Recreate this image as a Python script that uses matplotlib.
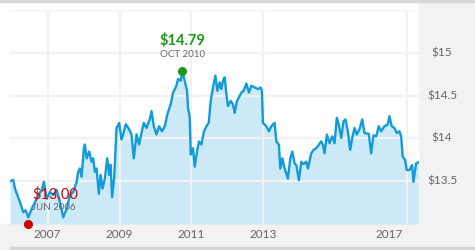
import matplotlib
matplotlib.use("Agg")
import matplotlib.pyplot as plt
from matplotlib.patches import Rectangle

# decimal-year dates and prices
years = [2005.953, 2006.044, 2006.092, 2006.231, 2006.322, 2006.389, 2006.461, 2006.556, 2006.647, 2006.739,
         2006.833, 2006.897, 2006.972, 2007.064, 2007.156, 2007.25, 2007.342, 2007.433, 2007.528, 2007.619,
         2007.711, 2007.806, 2007.85, 2007.897, 2007.944, 2008.008, 2008.036, 2008.083, 2008.156, 2008.222,
         2008.267, 2008.314, 2008.361, 2008.425, 2008.472, 2008.528, 2008.592, 2008.656, 2008.711, 2008.75,
         2008.794, 2008.85, 2008.917, 2008.989, 2009.056, 2009.1, 2009.175, 2009.267, 2009.333, 2009.397,
         2009.472, 2009.544, 2009.611, 2009.675, 2009.75, 2009.842, 2009.889, 2009.953, 2010.028, 2010.1,
         2010.183, 2010.258, 2010.333, 2010.425, 2010.489, 2010.583, 2010.628, 2010.703, 2010.75, 2010.833,
         2010.878, 2010.906, 2010.953, 2010.981, 2011.044, 2011.092, 2011.156, 2011.211, 2011.278, 2011.35,
         2011.417, 2011.481, 2011.536, 2011.6, 2011.667, 2011.722, 2011.786, 2011.833, 2011.878, 2011.925,
         2011.972, 2012.017, 2012.092, 2012.156, 2012.203, 2012.267, 2012.389, 2012.453, 2012.528, 2012.6,
         2012.667, 2012.758, 2012.85, 2012.925, 2012.961, 2012.989, 2013.083, 2013.156, 2013.222, 2013.314,
         2013.361, 2013.433, 2013.472, 2013.528, 2013.592, 2013.683, 2013.75, 2013.806, 2013.869, 2013.917,
         2013.989, 2014.056, 2014.119, 2014.194, 2014.239, 2014.333, 2014.397, 2014.472, 2014.544, 2014.611,
         2014.656, 2014.703, 2014.767, 2014.842, 2014.917, 2014.981, 2015.044, 2015.1, 2015.167, 2015.231,
         2015.286, 2015.35, 2015.417, 2015.472, 2015.536, 2015.6, 2015.675, 2015.75, 2015.814, 2015.933,
         2016.0, 2016.064, 2016.139, 2016.211, 2016.278, 2016.369, 2016.461, 2016.508, 2016.572, 2016.647,
         2016.711, 2016.786, 2016.833, 2016.878, 2016.944, 2016.989, 2017.064, 2017.139, 2017.175, 2017.25,
         2017.314]
prices = [13.50, 13.515, 13.413, 13.255, 13.137, 13.161, 13.078, 13.176, 13.255, 13.338,
          13.397, 13.492, 13.294, 13.374, 13.338, 13.397, 13.255, 13.078, 13.176, 13.338,
          13.374, 13.492, 13.610, 13.649, 13.551, 13.885, 13.929, 13.767, 13.846, 13.728,
          13.767, 13.610, 13.649, 13.353, 13.574, 13.413, 13.531, 13.767, 13.574, 13.693,
          13.314, 13.531, 14.122, 14.181, 13.988, 14.047, 14.165, 14.106, 14.047, 13.767,
          14.047, 13.929, 14.063, 14.181, 14.122, 14.225, 14.319, 14.142, 14.047, 14.142,
          14.083, 14.142, 14.284, 14.402, 14.535, 14.615, 14.694, 14.674, 14.784, 14.635,
          14.556, 14.358, 14.240, 13.811, 13.885, 13.669, 13.846, 13.965, 13.929, 14.083,
          14.142, 14.181, 14.437, 14.595, 14.733, 14.556, 14.654, 14.576, 14.674, 14.713,
          14.517, 14.378, 14.437, 14.398, 14.299, 14.437, 14.535, 14.556, 14.642, 14.535,
          14.615, 14.595, 14.576, 14.595, 14.556, 14.181, 14.142, 14.083, 14.142, 14.181,
          13.965, 13.926, 13.649, 13.767, 13.649, 13.531, 13.767, 13.846, 13.708, 13.689,
          13.512, 13.728, 13.699, 13.728, 13.649, 13.826, 13.866, 13.885, 13.926, 13.965,
          13.926, 13.826, 14.044, 13.944, 14.024, 13.944, 14.240, 14.162, 14.004, 14.201,
          14.221, 14.083, 13.866, 14.004, 14.122, 14.044, 14.106, 14.221, 14.063, 14.053,
          13.826, 14.035, 14.024, 14.142, 14.083, 14.142, 14.162, 14.260, 14.142, 14.122,
          14.063, 14.083, 14.024, 13.787, 13.748, 13.630, 13.630, 13.689, 13.492, 13.708,
          13.720]

x_ticks = [2007, 2009, 2011, 2013, 2017]
x_tick_labels = ["2007", "2009", "2011", "2013", "2017"]
y_ticks = [13.5, 14.0, 14.5, 15.0]
y_tick_labels = ["$13.5", "$14", "$14.5", "$15"]

max_point = (2010.75, 14.79)
max_label = ("$14.79", "OCT 2010")
min_point = (2006.46, 13.00)
min_label = ("$13.00", "JUN 2006")

FONT = ["Lato", "DejaVu Sans"]
W, H = 475, 250
fig = plt.figure(figsize=(4.75, 2.5), dpi=100)
fig.patch.set_facecolor("white")

# background panels (behind the axes)
for rect in [Rectangle((419 / W, 0), 1, 1, color="#f2f2f2", zorder=-5),
             Rectangle((0, 0), 1, (250 - 224) / H, color="#f2f2f2", zorder=-5),
             Rectangle((0, 1 - 2 / H), 1, 2 / H, color="#d6d6d6", zorder=-4),
             Rectangle((10 / W, 0), 1, 3 / H, color="#d6d6d6", zorder=-4)]:
    rect.set_transform(fig.transFigure)
    fig.add_artist(rect)

ax = fig.add_axes([10 / W, (250 - 224) / H, (419 - 10) / W, (224 - 10) / H])
ax.set_facecolor("white")
ax.set_xlim(years[0], 2017.33)
ax.set_ylim(13.0, 15.5)

ax.fill_between(years, prices, 13.0, color="#cce9f7", lw=0, zorder=1)
ax.plot(years, prices, color="#129bdb", lw=1.7, zorder=3, solid_joinstyle="round")

for t in x_ticks:
    ax.axvline(t, color="#f2f2f2", lw=1.6, zorder=2)
for t in y_ticks + [15.5]:
    ax.axhline(t, color="#f2f2f2", lw=1.6, zorder=2)

for s in ax.spines.values():
    s.set_visible(False)
ax.set_xticks([])
ax.set_yticks([])

# tick labels (the last one is kept inside the plot area, right-aligned)
for i, (t, lab) in enumerate(zip(x_ticks, x_tick_labels)):
    last = i == len(x_ticks) - 1
    ax.annotate(lab, xy=(t, 13.0), xycoords="data", xytext=(-4 if last else 0, -11), textcoords="offset pixels",
                ha="right" if last else "center", va="center", fontsize=8.5, color="#666666", family=FONT,
                annotation_clip=False)
for t, lab in zip(y_ticks, y_tick_labels):
    ax.annotate(lab, xy=(1, t), xycoords=("axes fraction", "data"), xytext=(23, 0), textcoords="offset pixels",
                ha="center", va="center", fontsize=8.5, color="#666666", family=FONT, annotation_clip=False)

# max annotation
ax.plot([max_point[0]], [max_point[1]], "o", color="#1a9a1a", ms=5.5, zorder=5, clip_on=False)
ax.annotate(max_label[0], xy=max_point, xytext=(0, 30), textcoords="offset pixels", ha="center", va="center",
            fontsize=10.5, color="#1a9a1a", fontweight="bold", family=FONT)
ax.annotate(max_label[1], xy=max_point, xytext=(0, 16), textcoords="offset pixels", ha="center", va="center",
            fontsize=7, color="#666666", family=FONT)

# min annotation
ax.plot([min_point[0]], [min_point[1]], "o", color="#d40000", ms=5.5, zorder=5, clip_on=False)
ax.annotate(min_label[0], xy=min_point, xytext=(4, 30), textcoords="offset pixels", ha="left", va="center",
            fontsize=10.5, color="#d40000", family=FONT, zorder=6)
ax.annotate(min_label[1], xy=min_point, xytext=(4, 16), textcoords="offset pixels", ha="left", va="center",
            fontsize=7, color="#666666", family=FONT, zorder=6)

fig.savefig("out.png", dpi=100)
